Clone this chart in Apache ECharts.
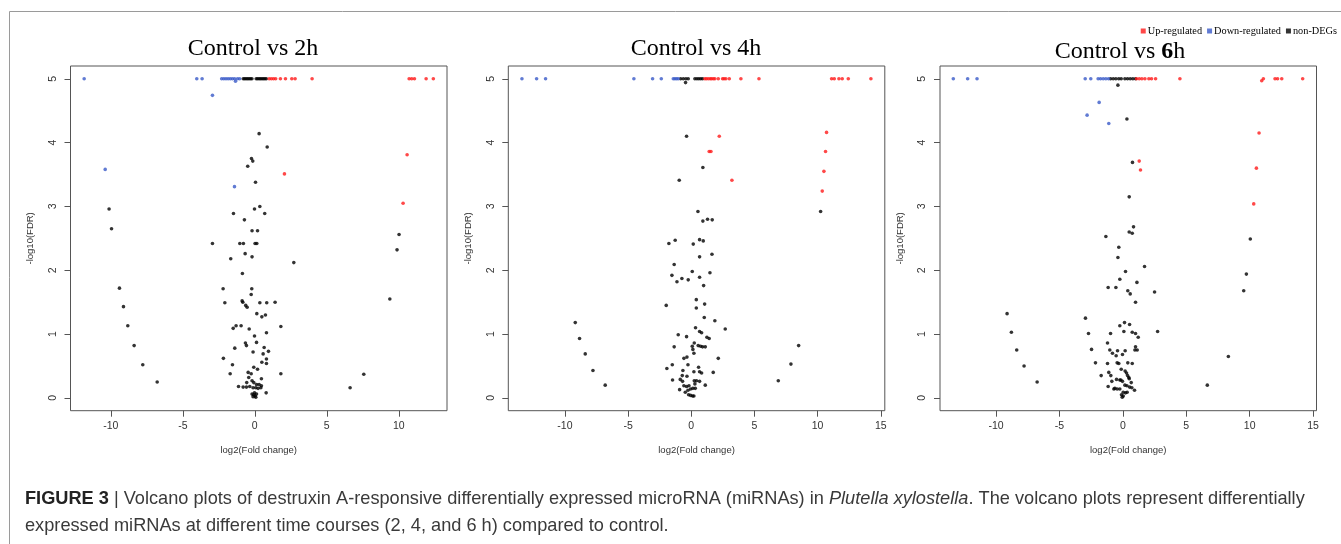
<!DOCTYPE html>
<html>
<head>
<meta charset="utf-8">
<script src="https://cdn.jsdelivr.net/npm/echarts@6/dist/echarts.min.js"></script>
<style>
html,body{margin:0;padding:0;background:#fff;}
#chart{width:1341px;height:544px;}
</style>
</head>
<body>
<div id="chart"></div>
<script>
// ---------- data ----------
const panelTitles = ['Control vs 2h', 'Control vs 4h', 'Control vs {b|6}h'];
const seriesNames = ['Up-regulated', 'Down-regulated', 'non-DEGs'];
const xTicks2h = [-10, -5, 0, 5, 10];
const xTicks4h = [-10, -5, 0, 5, 10, 15];
const xTicks6h = [-10, -5, 0, 5, 10, 15];
const yTicks = [0, 1, 2, 3, 4, 5];

// Control vs 2h
const up2h = [[1.0,5],[1.15,5],[1.3,5],[1.45,5],[1.78,5],[2.13,5],[2.57,5],[2.8,5],[3.98,5],[10.72,5],[10.9,5],[11.09,5],[11.9,5],[12.4,5],[2.06,3.51],[10.58,3.81],[10.30,3.05]];
const down2h = [[-11.85,5],[-4.03,5],[-3.66,5],[-2.3,5],[-2.15,5],[-2.0,5],[-1.85,5],[-1.7,5],[-1.55,5],[-1.4,5],[-1.2,5],[-1.05,5],[-1.34,4.96],[-2.94,4.74],[-10.39,3.58],[-1.41,3.31]];
const non2h = [[-0.8,5],[-0.7,5],[-0.6,5],[-0.5,5],[-0.4,5],[-0.3,5],[-0.2,5],[0.1,5],[0.2,5],[0.3,5],[0.4,5],[0.5,5],[0.6,5],[0.7,5],[0.8,5],
[0.30,4.14],[0.86,3.93],[-0.23,3.75],[-0.14,3.71],[-0.49,3.63],[0.05,3.38],
[-10.12,2.96],[0.35,3.0],[-0.02,2.96],[0.69,2.89],[-1.48,2.89],[-0.72,2.79],
[-9.95,2.65],[-0.19,2.62],[0.19,2.62],[-2.94,2.42],[-1.04,2.42],[-0.79,2.42],[0.02,2.42],[0.14,2.42],
[10.02,2.56],[9.88,2.32],[2.71,2.12],[-0.67,2.26],[-0.19,2.21],[-1.67,2.18],[-0.86,1.95],
[-9.40,1.72],[-2.20,1.71],[-0.21,1.71],[-0.25,1.62],[-9.12,1.43],[-2.08,1.49],[-0.88,1.52],[-0.83,1.50],[-0.63,1.45],[-0.53,1.42],[0.35,1.49],[0.83,1.49],[1.41,1.50],[9.38,1.55],
[0.14,1.32],[0.49,1.27],[0.74,1.30],[-8.82,1.13],[-1.30,1.13],[-1.50,1.09],[-0.95,1.13],[-0.39,1.08],[1.81,1.12],[0.81,1.02],[-0.02,0.97],
[-8.38,0.82],[-1.39,0.78],[-0.65,0.86],[-0.58,0.82],[0.12,0.87],[0.65,0.79],[0.95,0.73],[-0.12,0.72],[0.58,0.69],[0.81,0.61],[0.49,0.56],[0.81,0.54],
[-7.78,0.52],[-2.18,0.62],[-1.55,0.52],[-0.07,0.48],[0.19,0.45],[-1.71,0.38],[-0.46,0.40],[-0.25,0.38],[1.81,0.38],[7.57,0.37],[-0.42,0.32],[0.46,0.30],
[-6.78,0.25],[-0.56,0.24],[-0.19,0.27],[-0.07,0.24],[0.12,0.21],[0.30,0.21],[-1.13,0.18],[-0.81,0.17],[-0.58,0.17],[-0.35,0.18],[-0.12,0.16],[0.07,0.16],[0.23,0.15],[0.42,0.16],[6.62,0.16],[0.46,0.19],[0.79,0.08],
[-0.19,0.06],[-0.07,0.05],[0.02,0.03],[0.12,0.06],[-0.12,0.02],[0.07,0.01],[-0.02,0.08]];

// Control vs 4h
const up4h = [[1.08,5],[1.2,5],[1.35,5],[1.5,5],[1.61,5],[1.75,5],[1.87,5],[2.14,5],[2.48,5],[2.6,5],[2.74,5],[3.01,5],[3.93,5],[5.36,5],[11.11,5],[11.32,5],[11.69,5],[11.95,5],[12.43,5],[14.22,5],[2.22,4.10],[1.42,3.86],[1.56,3.86],[3.22,3.41],[10.71,4.16],[10.63,3.86],[10.50,3.55],[10.37,3.24]];
const down4h = [[-13.4,5],[-12.24,5],[-11.53,5],[-4.54,5],[-3.06,5],[-2.37,5],[-1.42,5],[-1.29,5],[-1.16,5],[-1.03,5]];
const non4h = [[-0.84,5],[-0.63,5],[-0.42,5],[-0.24,5],[-0.45,4.94],[0.29,5],[0.45,5],[0.6,5],[0.75,5],[0.9,5],
[-0.37,4.10],[0.92,3.61],[-0.95,3.41],[10.24,2.92],[0.53,2.92],[0.92,2.77],[1.29,2.80],[1.66,2.79],
[-1.77,2.42],[-1.27,2.47],[0.16,2.41],[0.66,2.48],[0.95,2.46],[0.66,2.21],[1.64,2.25],[-1.35,2.09],[0.08,1.98],[-1.53,1.92],[-1.13,1.82],[-0.74,1.87],[-0.24,1.85],[0.66,1.89],[1.48,1.96],[0.98,1.76],
[-1.98,1.45],[0.40,1.54],[0.40,1.41],[1.06,1.47],[1.03,1.26],[1.87,1.21],[-9.18,1.18],[2.69,1.08],[0.34,1.10],[-1.03,0.99],[-0.37,0.96],[0.66,1.04],[0.82,1.02],[1.24,0.95],[1.42,0.93],
[-8.84,0.93],[-1.35,0.80],[0.24,0.86],[0.08,0.81],[0.13,0.76],[0.55,0.82],[0.74,0.81],[0.90,0.80],[1.11,0.80],[0.21,0.70],[8.50,0.82],
[-8.39,0.69],[-0.58,0.62],[-0.34,0.64],[2.14,0.62],[-7.78,0.43],[-1.93,0.46],[-1.50,0.52],[-0.26,0.52],[0.58,0.48],[7.89,0.53],[-0.66,0.43],[0.21,0.41],[0.66,0.41],[0.82,0.39],[1.74,0.40],
[-1.48,0.28],[-0.87,0.29],[-0.71,0.35],[-0.34,0.34],[0.24,0.27],[0.42,0.27],[0.66,0.26],[0.29,0.22],[1.11,0.20],[6.89,0.27],[-6.81,0.20],[-0.69,0.26],[-0.58,0.19],[-0.37,0.18],[-0.18,0.19],
[-0.92,0.13],[-0.47,0.09],[-0.26,0.12],[-0.05,0.14],[0.13,0.15],[0.32,0.15],[-0.21,0.05],[-0.05,0.04],[0.11,0.03],[0.21,0.03]];

// Control vs 6h
const up6h = [[1.08,5],[1.29,5],[1.5,5],[1.74,5],[2.05,5],[2.26,5],[2.58,5],[4.5,5],[10.95,4.97],[11.08,5],[12.0,5],[12.2,5],[12.53,5],[14.18,5],[10.74,4.15],[1.29,3.71],[1.39,3.57],[10.53,3.60],[10.32,3.04]];
const down6h = [[-13.37,5],[-12.24,5],[-11.5,5],[-2.97,5],[-2.53,5],[-1.95,5],[-1.76,5],[-1.55,5],[-1.34,5],[-1.13,5],[-1.87,4.63],[-2.82,4.43],[-1.11,4.30]];
const non6h = [[-0.97,5],[-0.76,5],[-0.55,5],[-0.32,5],[-0.13,5],[0.16,5],[0.37,5],[0.58,5],[0.79,5],[1.0,5],[-0.39,4.90],[0.32,4.37],[0.76,3.69],[0.50,3.15],[0.84,2.68],
[0.50,2.60],[0.74,2.58],[-1.34,2.53],[10.05,2.49],[-0.32,2.36],[-0.39,2.20],[0.21,1.98],[1.71,2.06],[9.74,1.94],[-0.24,1.86],[1.11,1.81],[-1.16,1.73],[-0.55,1.73],[0.39,1.68],[0.58,1.63],[2.50,1.66],[9.53,1.68],[1.0,1.50],
[-9.13,1.32],[-2.95,1.25],[0.13,1.18],[-0.24,1.13],[0.53,1.15],[-8.79,1.03],[-2.71,1.01],[-0.97,1.01],[0.08,1.04],[0.74,1.03],[1.0,1.01],[1.21,0.95],[2.74,1.04],
[-1.21,0.86],[-8.37,0.75],[-2.47,0.76],[-1.03,0.75],[-0.82,0.70],[-0.42,0.74],[0.18,0.74],[1.0,0.80],[0.95,0.75],[1.13,0.75],[-0.53,0.66],[-0.03,0.68],[8.32,0.65],
[-2.16,0.55],[-1.21,0.54],[-0.45,0.55],[-0.32,0.54],[0.39,0.55],[0.74,0.54],[-7.79,0.50],[-0.13,0.45],[0.18,0.42],[0.29,0.39],[-1.71,0.35],[-1.11,0.40],[-0.95,0.35],[0.37,0.35],[0.47,0.32],
[-0.87,0.26],[-0.50,0.29],[-0.24,0.28],[-0.03,0.26],[0.50,0.30],[0.66,0.24],[-6.76,0.25],[-1.16,0.18],[-0.63,0.15],[-0.45,0.14],[-0.24,0.14],[0.16,0.20],[0.32,0.19],[0.53,0.17],[0.71,0.16],[0.92,0.12],[6.66,0.20],
[0.03,0.09],[0.21,0.08],[0.34,0.09],[-0.11,0.05],[0.03,0.03],[-0.05,0.01],[-0.71,0.14],[-0.16,0.28]];

const captionLine1 = '{b|FIGURE 3} | Volcano plots of destruxin A-responsive differentially expressed microRNA (miRNAs) in {i|Plutella xylostella}. The volcano plots represent differentially';
const captionLine2 = 'expressed miRNAs at different time courses (2, 4, and 6 h) compared to control.';

// ---------- layout ----------
const panels = [
  {up: up2h, down: down2h, non: non2h, xTicks: xTicks2h, xmin: -12.8, xmax: 13.35, left: 70.5, titleX: 253, titleY: 37},
  {up: up4h, down: down4h, non: non4h, xTicks: xTicks4h, xmin: -14.48, xmax: 15.32, left: 508.3, titleX: 696, titleY: 37},
  {up: up6h, down: down6h, non: non6h, xTicks: xTicks6h, xmin: -14.42, xmax: 15.27, left: 940, titleX: 1120, titleY: 40}
];
const colors = {up: '#ff1a1a', down: '#3a5ac8', non: '#000000'};
const gridTop = 66, gridH = 344.7, gridW = 376.5;

const grid = [], xAxis = [], yAxis = [], series = [], title = [];
panels.forEach((p, i) => {
  grid.push({left: p.left, top: gridTop, width: gridW, height: gridH, show: true,
    borderColor: '#555', borderWidth: 1, backgroundColor: 'transparent', containLabel: false});
  xAxis.push({
    gridIndex: i, type: 'value', min: p.xmin, max: p.xmax,
    splitLine: {show: false}, axisLine: {show: false, onZero: false},
    axisTick: {show: true, inside: false, length: 6, lineStyle: {color: '#555'}, customValues: p.xTicks},
    axisLabel: {customValues: p.xTicks, margin: 10, fontSize: 10.5, color: '#333', fontFamily: 'Liberation Sans'},
    name: 'log2(Fold change)', nameLocation: 'middle', nameGap: 35,
    nameTextStyle: {fontSize: 9.5, color: '#333', fontFamily: 'Liberation Sans'}
  });
  yAxis.push({
    gridIndex: i, type: 'value', min: -0.2, max: 5.2,
    splitLine: {show: false}, axisLine: {show: false, onZero: false},
    axisTick: {show: true, inside: false, length: 6, lineStyle: {color: '#555'}, customValues: yTicks},
    axisLabel: {customValues: yTicks, rotate: 90, margin: 12, fontSize: 10.5, color: '#333', fontFamily: 'Liberation Sans'},
    name: '-log10(FDR)', nameLocation: 'middle', nameGap: 35,
    nameTextStyle: {fontSize: 9.5, color: '#333', fontFamily: 'Liberation Sans'}
  });
  title.push({
    text: panelTitles[i], left: p.titleX, top: p.titleY, textAlign: 'center', padding: 0,
    textStyle: {fontFamily: 'Liberation Serif', fontSize: 24, fontWeight: 'normal', color: '#000',
      rich: {b: {fontFamily: 'Liberation Serif', fontSize: 24, fontWeight: 'bold', color: '#000'}}}
  });
  const mk = (name, data, color) => ({
    name: name, type: 'scatter', xAxisIndex: i, yAxisIndex: i, data: data,
    symbol: 'circle', symbolSize: 3.6, itemStyle: {color: color}, silent: true, animation: false
  });
  series.push(mk(seriesNames[2], p.non, colors.non));
  series.push(mk(seriesNames[1], p.down, colors.down));
  series.push(mk(seriesNames[0], p.up, colors.up));
});

const chart = echarts.init(document.getElementById('chart'), null, {renderer: 'canvas'});
chart.setOption({
  animation: false,
  backgroundColor: '#ffffff',
  title: title,
  legend: {
    data: [
      {name: seriesNames[0], itemStyle: {color: colors.up}},
      {name: seriesNames[1], itemStyle: {color: colors.down}},
      {name: seriesNames[2], itemStyle: {color: colors.non}}
    ],
    right: 4, top: 26, padding: 0, itemGap: 5, itemWidth: 5, itemHeight: 5, icon: 'rect',
    selectedMode: false,
    textStyle: {fontFamily: 'Liberation Serif', fontSize: 10.3, color: '#000', padding: [0, 0, 0, -3]}
  },
  grid: grid, xAxis: xAxis, yAxis: yAxis, series: series,
  graphic: [
    {type: 'polyline', silent: true, shape: {points: [[9.5, 544], [9.5, 11.5], [1341, 11.5]]},
      style: {stroke: '#9a9a9a', lineWidth: 1, fill: null}},
    {type: 'text', x: 25, y: 499, silent: true,
      style: {text: captionLine1, fontFamily: 'Liberation Sans', fontSize: 18.2, fill: '#3a3a3a', verticalAlign: 'middle',
        rich: {
          b: {fontFamily: 'Liberation Sans', fontSize: 18.2, fontWeight: 'bold', fill: '#222', color: '#222'},
          i: {fontFamily: 'Liberation Sans', fontSize: 18.2, fontStyle: 'italic', fill: '#3a3a3a', color: '#3a3a3a'}
        }}},
    {type: 'text', x: 25, y: 526, silent: true,
      style: {text: captionLine2, fontFamily: 'Liberation Sans', fontSize: 18.2, fill: '#3a3a3a', verticalAlign: 'middle'}}
  ]
});
</script>
</body>
</html>
